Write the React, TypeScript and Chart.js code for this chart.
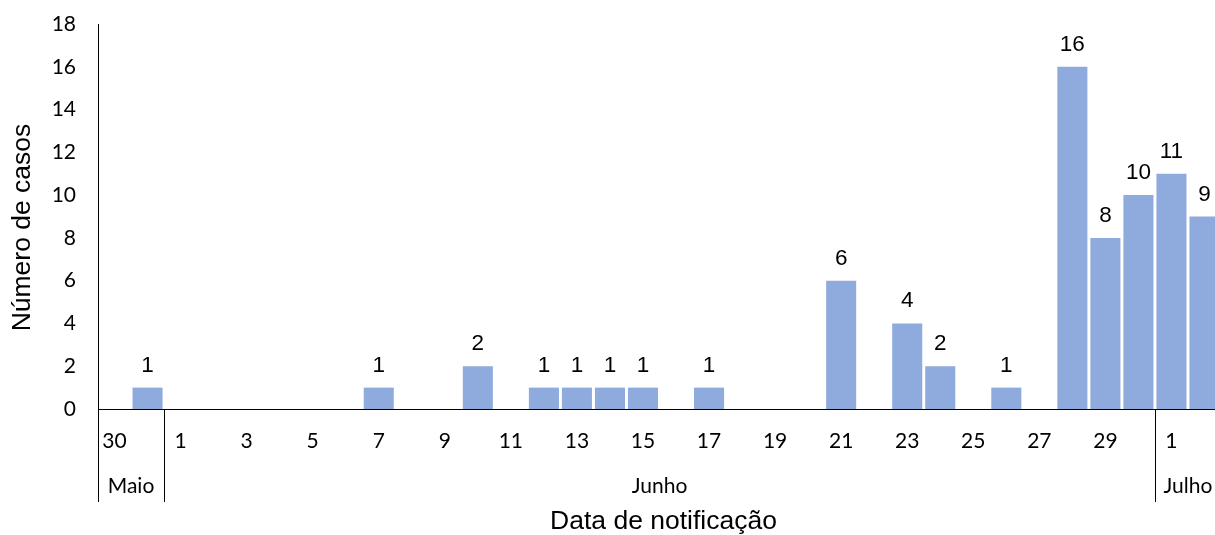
import React, { useEffect, useRef } from 'react';
import { Chart, registerables } from 'chart.js';

Chart.register(...registerables);

// Days of notification: 30–31 May, 1–30 June, 1–2 July
const categories = [
  '30', '31',
  '1', '2', '3', '4', '5', '6', '7', '8', '9', '10',
  '11', '12', '13', '14', '15', '16', '17', '18', '19', '20',
  '21', '22', '23', '24', '25', '26', '27', '28', '29', '30',
  '1', '2',
];

const cases = [
  0, 1,
  0, 0, 0, 0, 0, 0, 1, 0, 0, 2,
  0, 1, 1, 1, 1, 0, 1, 0, 0, 0,
  6, 0, 4, 2, 0, 1, 0, 16, 8, 10,
  11, 9,
];

const months = ['Maio', 'Junho', 'Julho'];
const monthSpans = [2, 30, 2];

const yTicks = [0, 2, 4, 6, 8, 10, 12, 14, 16, 18];

const yTitle = 'Número de casos';
const xTitle = 'Data de notificação';

const TITLE_FONT = '26.5px "Liberation Sans", Arial, sans-serif';
const LABEL_FONT = '22.5px "Liberation Sans", Arial, sans-serif';
const TICK_SIZE = 21;

const overlayPlugin = {
  id: 'overlay',
  afterDatasetsDraw(chart: any) {
    const ctx = chart.ctx as CanvasRenderingContext2D;
    const meta = chart.getDatasetMeta(0);
    const xs = chart.scales.x;
    const bottom = chart.chartArea.bottom;
    ctx.save();
    // data labels
    ctx.font = LABEL_FONT;
    ctx.fillStyle = '#000';
    ctx.textAlign = 'center';
    ctx.textBaseline = 'alphabetic';
    meta.data.forEach((bar: any, i: number) => {
      const v = cases[i];
      if (!v) return;
      ctx.fillText(String(v), bar.x, bar.y - 16);
    });
    // month groups
    const half = (xs.getPixelForValue(1) - xs.getPixelForValue(0)) / 2;
    ctx.strokeStyle = '#000';
    ctx.lineWidth = 1;
    ctx.font = `${TICK_SIZE}px Lato, sans-serif`;
    ctx.textBaseline = 'middle';
    let start = 0;
    months.forEach((m, k) => {
      const left = xs.getPixelForValue(start) - half;
      const right = xs.getPixelForValue(start + monthSpans[k] - 1) + half;
      const lx = Math.round(left) + 0.5;
      ctx.beginPath();
      ctx.moveTo(lx, bottom);
      ctx.lineTo(lx, 502);
      ctx.stroke();
      ctx.fillText(m, (left + right) / 2, 486.5);
      start += monthSpans[k];
    });
    // axis titles
    ctx.font = TITLE_FONT;
    ctx.textBaseline = 'middle';
    ctx.textAlign = 'center';
    ctx.fillText(xTitle, 663.5, 522);
    ctx.translate(23, 227.5);
    ctx.rotate(-Math.PI / 2);
    ctx.fillText(yTitle, 0, 0);
    ctx.restore();
  },
};

export default function App() {
  const ref = useRef<HTMLCanvasElement>(null);

  useEffect(() => {
    if (!ref.current) return;
    const chart = new Chart(ref.current, {
      type: 'bar',
      data: {
        labels: categories,
        datasets: [
          {
            data: cases,
            backgroundColor: '#8FAADC',
            borderWidth: 0,
            categoryPercentage: 1,
            barPercentage: 0.91,
          },
        ],
      },
      options: {
        animation: false,
        responsive: false,
        devicePixelRatio: 1,
        layout: { padding: { top: 24, left: 0, right: 0, bottom: 0 } },
        plugins: {
          legend: { display: false },
          tooltip: { enabled: false },
        },
        scales: {
          x: {
            grid: { display: false, drawTicks: false },
            border: { display: true, color: '#000', width: 1 },
            ticks: {
              autoSkip: false,
              maxRotation: 0,
              minRotation: 0,
              padding: 21.5,
              color: '#000',
              font: { family: 'Lato', size: TICK_SIZE, lineHeight: 1 },
              callback: (_v: any, idx: number) => (idx % 2 === 0 ? categories[idx] : ''),
            },
            afterFit: (s: any) => {
              s.height = 126;
              s.paddingLeft = 0;
              s.paddingRight = 0;
            },
          },
          y: {
            min: 0,
            max: 18,
            grid: { display: false, drawTicks: false },
            border: { display: true, color: '#000', width: 1 },
            afterBuildTicks: (s: any) => {
              s.ticks = yTicks.map((v) => ({ value: v }));
            },
            ticks: {
              padding: 22,
              color: '#000',
              font: { family: 'Lato', size: TICK_SIZE, lineHeight: 1 },
            },
            afterFit: (s: any) => {
              s.width = 98;
              s.paddingTop = 0;
              s.paddingBottom = 0;
            },
          },
        },
      },
      plugins: [overlayPlugin],
    });
    return () => chart.destroy();
  }, []);

  return (
    <div
      style={{
        position: 'fixed',
        left: 0,
        top: 0,
        width: 1215,
        height: 535,
        overflow: 'hidden',
        background: '#fff',
      }}
    >
      <canvas
        ref={ref}
        width={1221}
        height={535}
        style={{ display: 'block', width: 1221, height: 535 }}
      />
    </div>
  );
}
